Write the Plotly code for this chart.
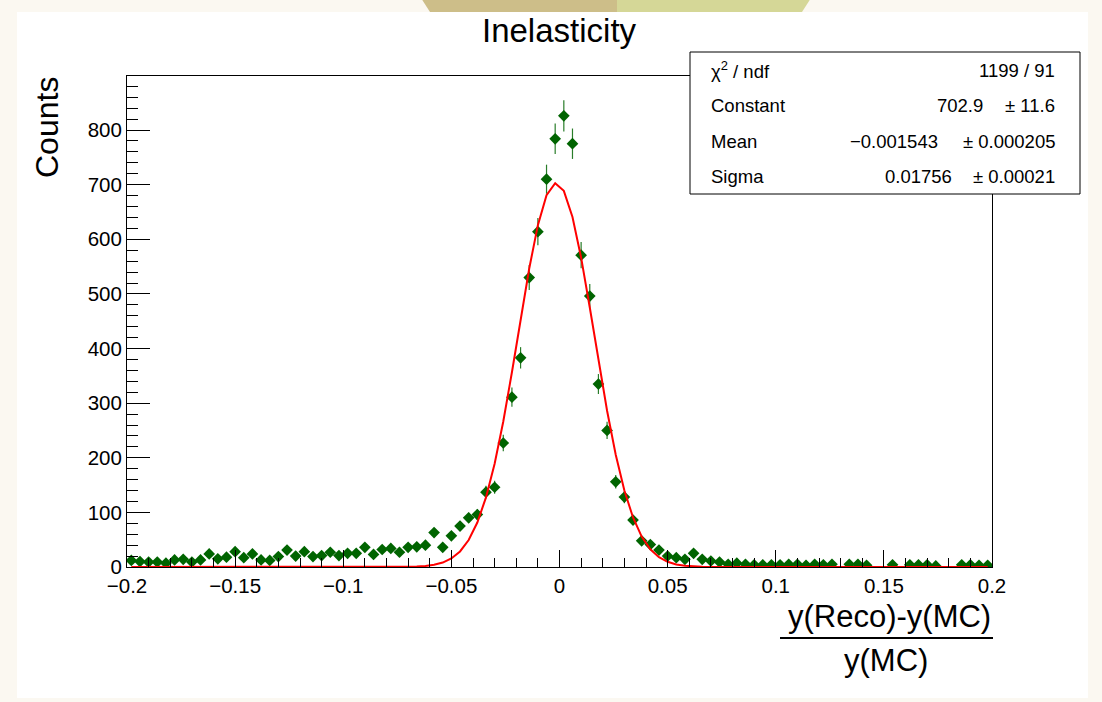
import numpy as np
import plotly.graph_objects as go

# histogram: 100 bins of width 0.004 on [-0.2, 0.2]
bin_lo = -0.2
bin_hi = 0.2
n_bins = 100
counts = [
    12, 10, 9, 9, 7, 13, 14, 9, 13, 24,
    15, 18, 28, 17, 24, 13, 12, 19, 31, 20,
    28, 19, 21, 27, 21, 25, 25, 36, 23, 32,
    34, 27, 36, 37, 40, 63, 36, 57, 75, 90,
    96, 137, 146, 227, 311, 383, 530, 614, 710, 784,
    826, 775, 571, 496, 335, 250, 156, 128, 86, 48,
    41, 31, 20, 17, 14, 25, 14, 11, 9, 5,
    7, 5, 4, 4, 4, 4, 5, 5, 3, 5,
    4, 5, 0, 5, 5, 3, 0, 0, 4, 0,
    4, 4, 4, 2, 0, 0, 4, 4, 3, 3,
]

# gaussian fit parameters, as printed in the stats box
fit_const = 702.9
fit_mean = -0.001543
fit_sigma = 0.01756

x_tickvals = [-0.2, -0.15, -0.1, -0.05, 0, 0.05, 0.1, 0.15, 0.2]
x_ticktext = ["\u22120.2", "\u22120.15", "\u22120.1", "\u22120.05", "0", "0.05", "0.1", "0.15", "0.2"]
y_tickvals = [0, 100, 200, 300, 400, 500, 600, 700, 800]

stats_labels = ["\u03c7<sup>2</sup> / ndf", "Constant", "Mean", "Sigma"]
stats_values = ["1199 / 91", "702.9", "\u22120.001543", "0.01756"]
stats_errors = ["", "\u00b1 11.6", "\u00b1 0.000205", "\u00b1 0.00021"]

FONT = "Liberation Sans, Arial, Helvetica, sans-serif"
W, H = 1102, 702
ML, MR, MT, MB = 127, 110, 76, 135
PW, PH = W - ML - MR, H - MT - MB


def px_x(px):
    return (px - ML) / PW


def px_y(py):
    return (H - MB - py) / PH


width = (bin_hi - bin_lo) / n_bins
centers = np.linspace(bin_lo + width / 2, bin_hi - width / 2, n_bins)
y = np.array(counts, dtype=float)
keep = y > 0  # empty bins are not drawn

fit_y = fit_const * np.exp(-0.5 * ((centers - fit_mean) / fit_sigma) ** 2)

fig = go.Figure()

fig.add_trace(go.Scatter(
    x=centers[keep], y=y[keep],
    mode="markers",
    marker=dict(symbol="diamond", size=9, color="#006400"),
    error_y=dict(type="data", array=np.sqrt(y[keep]), thickness=1.2,
                 width=0, color="#2a7d2a"),
    showlegend=False,
))

fig.add_trace(go.Scatter(
    x=centers, y=fit_y,
    mode="lines",
    line=dict(color="#ff0000", width=2),
    showlegend=False,
))

axis_common = dict(
    showline=True, linecolor="black", linewidth=1, mirror=True,
    ticks="inside", tickcolor="black", tickwidth=1,
    showgrid=False, zeroline=False,
    tickfont=dict(family=FONT, size=20.5, color="black"),
)

fig.update_xaxes(
    range=[bin_lo, bin_hi],
    tickvals=x_tickvals, ticktext=x_ticktext, ticklen=17,
    minor=dict(ticks="inside", ticklen=9, dtick=0.01, tick0=0,
               tickcolor="black", showgrid=False),
    **axis_common,
)
fig.update_yaxes(
    range=[0, 899],
    tickvals=y_tickvals, ticklen=23,
    minor=dict(ticks="inside", ticklen=11, dtick=20, tick0=0,
               tickcolor="black", showgrid=False),
    **axis_common,
)

shapes = [
    # white canvas on the cream page
    dict(type="rect", xref="paper", yref="paper", layer="below",
         x0=px_x(17), x1=px_x(1088), y0=px_y(698), y1=px_y(12),
         fillcolor="white", line=dict(width=0)),
    # decoration at the top of the page
    dict(type="path", xref="paper", yref="paper", layer="below",
         path=f"M{px_x(421)},{px_y(-2)} L{px_x(617)},{px_y(-2)} L{px_x(617)},{px_y(12)} L{px_x(430)},{px_y(12)} Z",
         fillcolor="#cdbe89", line=dict(width=0)),
    dict(type="path", xref="paper", yref="paper", layer="below",
         path=f"M{px_x(617)},{px_y(-2)} L{px_x(811)},{px_y(-2)} L{px_x(802)},{px_y(12)} L{px_x(617)},{px_y(12)} Z",
         fillcolor="#d5d797", line=dict(width=0)),
    # stats box
    dict(type="rect", xref="paper", yref="paper", layer="above",
         x0=px_x(690), x1=px_x(1080), y0=px_y(194), y1=px_y(52),
         fillcolor="white", line=dict(color="black", width=1)),
    # fraction bar of the x title
    dict(type="line", xref="paper", yref="paper",
         x0=px_x(780), x1=px_x(993), y0=px_y(638), y1=px_y(638),
         line=dict(color="black", width=2)),
]

annotations = [
    dict(text="Inelasticity", x=px_x(559.5), y=px_y(30),
         xanchor="center", yanchor="middle", font=dict(size=33)),
    dict(text="Counts", x=px_x(47), y=px_y(128), textangle=-90,
         xanchor="center", yanchor="middle", font=dict(size=32)),
    dict(text="y(Reco)-y(MC)", x=px_x(993), y=px_y(616),
         xanchor="right", yanchor="middle", font=dict(size=31)),
    dict(text="y(MC)", x=px_x(886), y=px_y(660),
         xanchor="center", yanchor="middle", font=dict(size=31)),
]

row_y = [70, 106, 141, 176]
value_right = [1057, 985, 940, 954]
for lab, val, err, ry, vr in zip(stats_labels, stats_values, stats_errors, row_y, value_right):
    annotations.append(dict(text=lab, x=px_x(709), y=px_y(ry),
                            xanchor="left", yanchor="middle", font=dict(size=18.5)))
    annotations.append(dict(text=val, x=px_x(vr), y=px_y(ry),
                            xanchor="right", yanchor="middle", font=dict(size=18.5)))
    if err:
        annotations.append(dict(text=err, x=px_x(1057), y=px_y(ry),
                                xanchor="right", yanchor="middle", font=dict(size=18.5)))

for a in annotations:
    a.update(xref="paper", yref="paper", showarrow=False)
    a["font"].update(family=FONT, color="black")

fig.update_layout(
    width=W, height=H,
    margin=dict(l=ML, r=MR, t=MT, b=MB),
    paper_bgcolor="#fbf8f1",
    plot_bgcolor="white",
    font=dict(family=FONT, color="black"),
    shapes=shapes,
    annotations=annotations,
    showlegend=False,
)

fig.write_html("out.html", config={"displayModeBar": False},
               post_script="document.body.style.margin='0';")
